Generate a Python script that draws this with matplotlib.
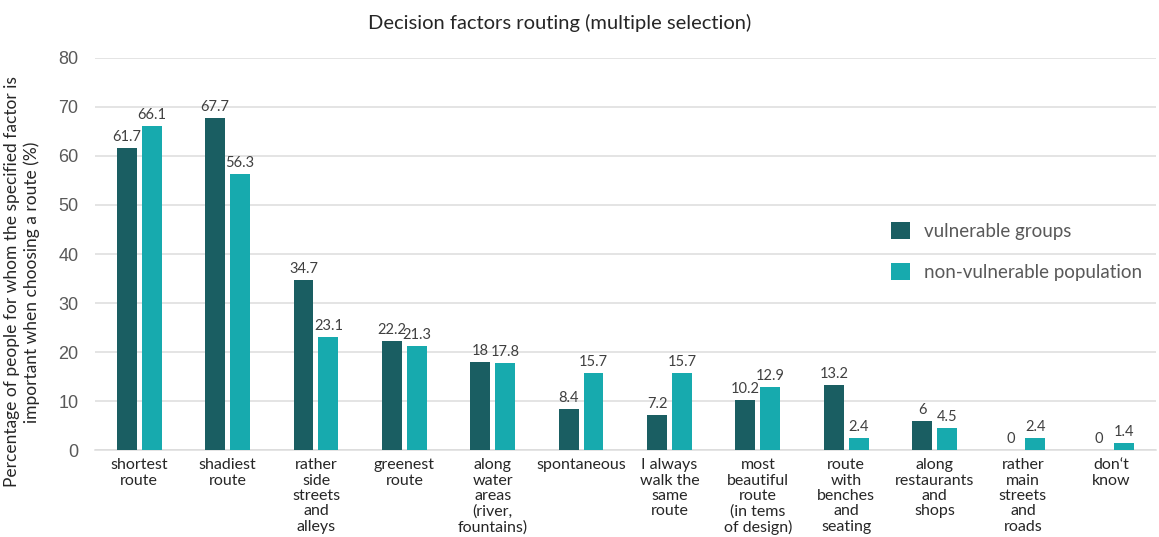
import numpy as np
import matplotlib.pyplot as plt

plt.rcParams['font.family'] = ['Lato', 'DejaVu Sans']

categories = [
    "shortest\nroute", "shadiest\nroute", "rather\nside\nstreets\nand\nalleys",
    "greenest\nroute", "along\nwater\nareas\n(river,\nfountains)", "spontaneous",
    "I always\nwalk the\nsame\nroute", "most\nbeautiful\nroute\n(in tems\nof design)",
    "route\nwith\nbenches\nand\nseating", "along\nrestaurants\nand\nshops",
    "rather\nmain\nstreets\nand\nroads", "don\u2018t\nknow",
]
vulnerable = [61.7, 67.7, 34.7, 22.2, 18, 8.4, 7.2, 10.2, 13.2, 6, 0, 0]
non_vulnerable = [66.1, 56.3, 23.1, 21.3, 17.8, 15.7, 15.7, 12.9, 2.4, 4.5, 2.4, 1.4]

dark = "#1a5e62"
teal = "#17aaae"
grey = "#595959"

fig = plt.figure(figsize=(11.59, 5.37), dpi=100)
ax = fig.add_axes([0.082, 0.162, 0.915, 0.73])

x = np.arange(len(categories))
w = 0.225
off = 0.141
b1 = ax.bar(x - off, vulnerable, w, color=dark, label="vulnerable groups", zorder=3)
b2 = ax.bar(x + off, non_vulnerable, w, color=teal, label="non-vulnerable population", zorder=3)

for bars, vals in ((b1, vulnerable), (b2, non_vulnerable)):
    for rect, v in zip(bars, vals):
        ax.text(rect.get_x() + rect.get_width() / 2, v + 0.8, f"{v:g}",
                ha="center", va="bottom", fontsize=10.5, color="#404040")

ax.set_xlim(-0.5, len(categories) - 0.5)
ax.set_ylim(0, 80)
ax.set_yticks(range(0, 81, 10))
ax.yaxis.grid(True, color="#dcdcdc", linewidth=1.1, zorder=0)
ax.set_xticks(x)
ax.set_xticklabels(categories, fontsize=11.5, color="#262626", linespacing=1.12)
ax.tick_params(axis="x", length=0, pad=6)
ax.tick_params(axis="y", length=0, labelsize=13, labelcolor=grey, pad=12)
for lbl in ax.get_yticklabels():
    lbl.set_fontfamily("Liberation Sans")
for s in ("top", "right", "left"):
    ax.spines[s].set_visible(False)
ax.spines["bottom"].set_color("#dcdcdc")
ax.spines["bottom"].set_linewidth(1.1)

fig.text(0.483, 0.958, "Decision factors routing (multiple selection)", fontsize=14.5,
         color="#262626", ha="center", va="center")
fig.text(0.019, 0.475, "Percentage of people for whom the specified factor is\n"
         "important when choosing a route (%)", rotation=90, ha="center",
         va="center", fontsize=12.5, color="#262626", multialignment="center",
         linespacing=1.2)

ax.legend(loc="upper left", bbox_to_anchor=(0.735, 0.625), frameon=False,
          fontsize=13.5, labelcolor=grey, handlelength=1.0, handleheight=1.0,
          labelspacing=1.25, handletextpad=0.75)

fig.savefig("out.png", dpi=100)
